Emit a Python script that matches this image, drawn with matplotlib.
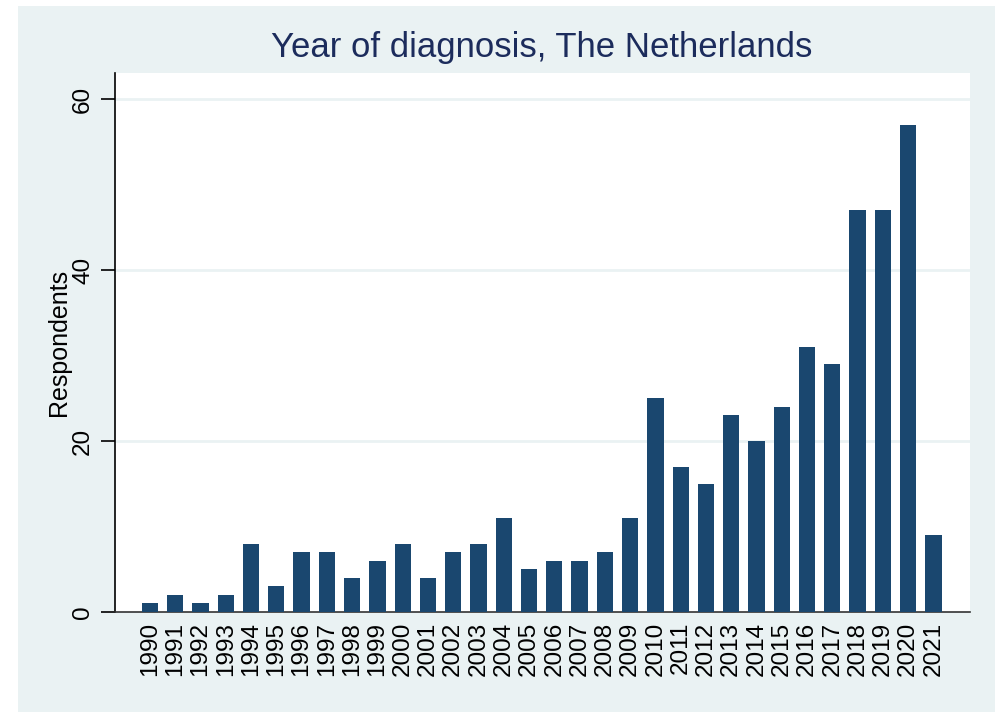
import numpy as np
import matplotlib.pyplot as plt
from matplotlib.patches import Rectangle

plt.rcParams['font.family'] = ['Liberation Sans', 'DejaVu Sans']

# data
years = [str(y) for y in range(1990, 2022)]
respondents = [1, 2, 1, 2, 8, 3, 7, 7, 4, 6, 8, 4, 7, 8, 11, 5, 6, 6, 7, 11,
               25, 17, 15, 23, 20, 24, 31, 29, 47, 47, 57, 9]
yticks = [0, 20, 40, 60]

W, H = 998, 712
fig = plt.figure(figsize=(W / 100, H / 100), dpi=100)
fig.patch.set_facecolor('white')

# stata-like outer graph region
bg = Rectangle((18 / W, 0), (995 - 18) / W, (712 - 6) / H,
               transform=fig.transFigure, facecolor='#eaf2f3',
               edgecolor='none', zorder=-10)
fig.add_artist(bg)

ax = fig.add_axes([115 / W, (H - 612) / H, (970 - 115) / W, (612 - 73) / H])
ax.set_zorder(5)
ax.set_facecolor('white')

x = np.arange(len(years))
ax.bar(x, respondents, width=0.645, color='#1a476f', zorder=3)

ax.set_xlim(-1.385, 32.45)
ax.set_ylim(0, 63.05)

ax.set_yticks(yticks)
ax.set_yticklabels([str(t) for t in yticks], rotation=90, va='center', fontsize=17.5)
for t in yticks[1:]:
    ax.axhline(t, color='#eaf2f3', lw=2, zorder=1)

ax.set_xticks(x)
ax.set_xticklabels(years, rotation=90, fontsize=17.5)
ax.tick_params(axis='x', length=0, pad=7)
ax.tick_params(axis='y', length=10, width=1.2, pad=5, color='black')

for s in ['top', 'right']:
    ax.spines[s].set_visible(False)
ax.spines['left'].set_linewidth(1.2)
ax.spines['bottom'].set_linewidth(1.2)
ax.spines['bottom'].set_color('#333333')

fig.text(59 / W, 1 - 342 / H, 'Respondents', rotation=90, ha='center', va='center',
         fontsize=18, zorder=6)
fig.text(542 / W, 1 - 48 / H, 'Year of diagnosis, The Netherlands', ha='center',
         va='center', fontsize=25, color='#1c2c5c', zorder=6)

fig.savefig('out.png', dpi=100)
